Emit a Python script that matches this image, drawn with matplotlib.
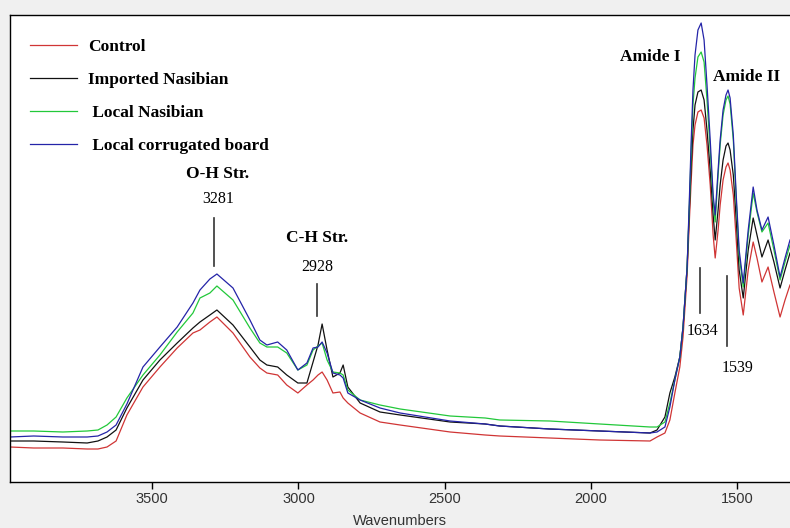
"""FTIR spectra of four board samples (absorbance in arbitrary units vs wavenumber)."""
import matplotlib
matplotlib.use("Agg")
import matplotlib.pyplot as plt

# wavenumbers (cm-1)
WN = [3987, 3906, 3806, 3723, 3686, 3655, 3624, 3587, 3532, 3474,
      3415, 3361, 3337, 3303, 3279, 3224, 3166, 3132, 3108, 3071,
      3040, 3002, 2971, 2950, 2933, 2919, 2902, 2882, 2858, 2847,
      2831, 2789, 2721, 2652, 2481, 2361, 2311, 2140, 1969, 1797,
      1773, 1746, 1729, 1712, 1695, 1684,
      1670, 1663, 1656, 1650, 1643, 1633, 1622, 1612, 1602, 1591,
      1581, 1574, 1564, 1557, 1547, 1537, 1530, 1523, 1512, 1502,
      1492, 1478, 1461, 1444, 1431, 1414, 1393, 1373, 1352, 1335, 1318]

control = [35, 34, 34, 33, 33, 35, 41, 67, 95, 115,
           134, 149, 152, 160, 165, 149, 125, 114, 109, 107,
           97, 89, 97, 102, 107, 110, 102, 89, 90, 84,
           79, 69, 60, 57, 50, 47, 46, 44, 42, 41,
           45, 49, 62, 89, 115, 145,
           207, 257, 302, 337, 357, 370, 372, 364, 337, 297,
           247, 224, 252, 277, 302, 315, 319, 312, 287, 242,
           194, 167, 212, 240, 224, 200, 215, 190, 165, 182, 197]

imported_nasibian = [41, 41, 40, 39, 41, 45, 52, 74, 102, 122,
                     139, 154, 160, 167, 172, 157, 135, 122, 117, 115,
                     107, 99, 99, 120, 137, 158, 132, 105, 109, 117,
                     95, 79, 70, 67, 60, 58, 56, 53, 51, 49,
                     52, 65, 89, 105, 125, 155,
                     215, 267, 317, 352, 377, 390, 392, 382, 352, 312,
                     267, 242, 272, 297, 322, 336, 339, 332, 307, 262,
                     212, 184, 232, 264, 247, 225, 242, 220, 194, 212, 229]

local_nasibian = [51, 51, 50, 51, 52, 57, 65, 84, 107, 127,
                  150, 169, 184, 189, 196, 182, 154, 139, 135, 135,
                  129, 112, 117, 132, 136, 139, 122, 110, 109, 107,
                  92, 82, 77, 73, 66, 64, 62, 61, 58, 55,
                  55, 60, 79, 102, 125, 155,
                  215, 272, 332, 377, 404, 425, 430, 420, 382, 332,
                  282, 260, 307, 337, 367, 382, 386, 378, 342, 282,
                  227, 195, 247, 289, 270, 250, 259, 232, 202, 220, 237]

local_board = [45, 46, 45, 45, 46, 50, 57, 78, 115, 135,
               155, 179, 192, 203, 208, 194, 162, 142, 137, 140,
               132, 112, 119, 134, 135, 140, 129, 109, 107, 104,
               89, 82, 74, 69, 61, 58, 56, 53, 51, 49,
               50, 55, 75, 102, 125, 155,
               215, 277, 342, 392, 427, 452, 459, 442, 397, 342,
               287, 267, 312, 342, 372, 387, 392, 384, 347, 287,
               232, 199, 252, 295, 272, 252, 265, 237, 205, 224, 242]

SERIES = [
    ("Control", control, "#d03535"),
    ("Imported Nasibian", imported_nasibian, "#111111"),
    (" Local Nasibian", local_nasibian, "#22c83a"),
    (" Local corrugated board", local_board, "#2424a8"),
]

# band markers: (title, number, x of title/number, x of tick line, y title, y number, y line)
BANDS = [
    ("O-H Str.", "3281", 3276, 3289, 308, 283, (216, 264)),
    ("C-H Str.", "2928", 2936, 2936, 244, 215, (166, 198)),
]
PEAKS = [("1634", 1616, 151, 1625, (169, 214)),
         ("1539", 1496, 114, 1534, (136, 206))]
AMIDES = [("Amide I", 1796, 425), ("Amide II", 1468, 405)]

SERIF = "Liberation Serif"

fig = plt.figure(figsize=(7.9, 5.28), dpi=100, facecolor="#f0f0f0")
ax = fig.add_axes([10 / 790, 1 - 482 / 528, 780 / 790, 467 / 528])
ax.set_facecolor("white")

for name, vals, col in SERIES:
    ax.plot(WN, vals, color=col, lw=0.9, label=name)

for title, num, xt, xl, yt, yn, (y0, y1) in BANDS:
    ax.text(xt, yt, title, ha="center", va="center", family=SERIF,
            fontweight="bold", fontsize=12.5)
    ax.text(xt, yn, num, ha="center", va="center", family=SERIF, fontsize=11.5)
    ax.plot([xl, xl], [y0, y1], color="#333333", lw=1.2)

for num, xt, yn, xl, (y0, y1) in PEAKS:
    ax.text(xt, yn, num, ha="center", va="center", family=SERIF, fontsize=11.5)
    ax.plot([xl, xl], [y0, y1], color="#333333", lw=1.2)

for title, xt, yt in AMIDES:
    ax.text(xt, yt, title, ha="center", va="center", family=SERIF,
            fontweight="bold", fontsize=12.5)

ax.set_xlim(3987, 1318)
ax.set_ylim(0, 467)
ax.set_xticks([3500, 3000, 2500, 2000, 1500])
ax.set_yticks([])
ax.tick_params(axis="x", direction="out", length=5, width=1, pad=2,
               labelsize=10.5, labelcolor="#333333")
for lab in ax.get_xticklabels():
    lab.set_family("Liberation Sans")
ax.set_xlabel("Wavenumbers", fontsize=10.5, family="Liberation Sans",
              color="#333333", labelpad=6)
ax.spines["right"].set_visible(False)
for s in ("left", "top", "bottom"):
    ax.spines[s].set_linewidth(1.0)

ax.legend(loc="upper left", bbox_to_anchor=(20 / 780, 0.949), frameon=False,
          borderpad=0, borderaxespad=0, handlelength=2.7, handletextpad=0.63,
          labelspacing=0.98, prop={"family": SERIF, "weight": "bold", "size": 12.5})

fig.savefig("out.png", dpi=100, facecolor=fig.get_facecolor())
